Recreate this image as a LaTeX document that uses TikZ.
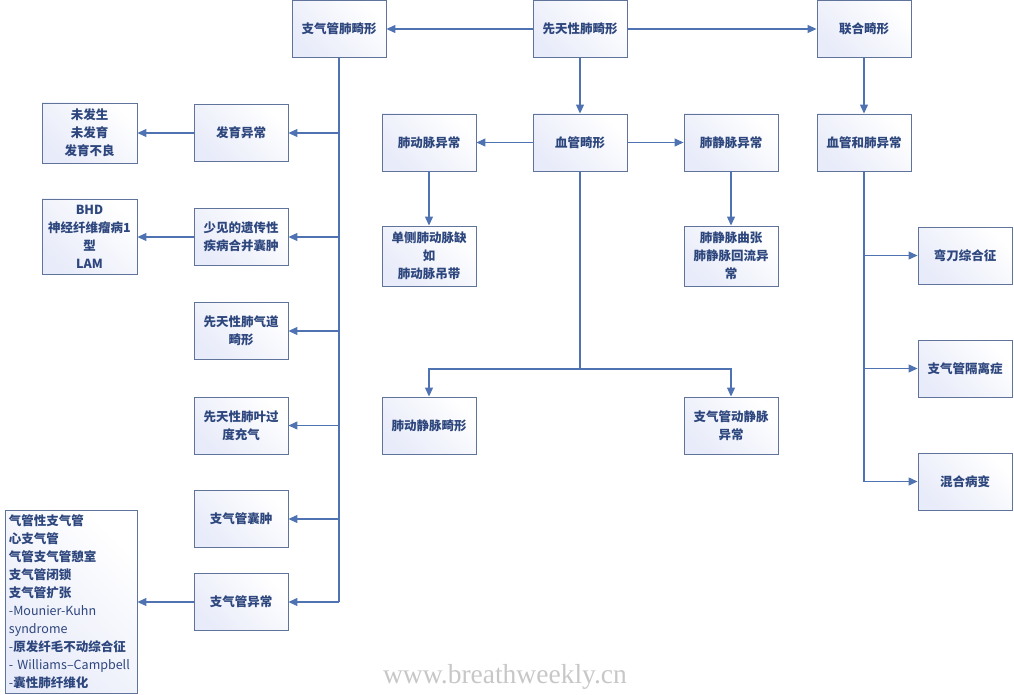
\documentclass[tikz,border=0pt]{standalone}
\usepackage{fontspec}
\setmainfont{Noto Sans CJK SC}
\newfontfamily\wmfont{Liberation Serif}
\usetikzlibrary{arrows.meta}
\definecolor{lineblue}{RGB}{79,115,178}
\definecolor{boxborder}{RGB}{95,115,155}
\definecolor{txtblue}{RGB}{45,70,125}
\definecolor{boxfill}{RGB}{232,235,249}
\begin{document}
\begin{tikzpicture}[x=1pt,y=-1pt,
  box/.style={draw=boxborder, line width=0.9pt, left color=boxfill, right color=white, shading angle=135,
    minimum width=94pt, minimum height=57pt, align=center, inner sep=2pt,
    font=\fontsize{12.5pt}{18pt}\selectfont\bfseries, text=txtblue},
  conn/.style={draw=lineblue, line width=1.2pt},
  arr/.style={conn, -{Triangle[length=9pt,width=8pt]}}
]
\useasboundingbox (0,0) rectangle (1014,695);
% top row
\node[box] (zhi) at (339,29) {支气管肺畸形};
\node[box] (xian) at (580,29) {先天性肺畸形};
\node[box] (lian) at (864,29) {联合畸形};
% left column
\node[box] (fayu) at (241,133) {发育异常};
\node[box, minimum width=95pt, minimum height=60pt] (weifa) at (89.5,133) {未发生\\未发育\\发育不良};
\node[box] (shao) at (241,237) {少见的遗传性\\疾病合并囊肿};
\node[box, minimum width=95pt, minimum height=75pt] (bhd) at (89.5,236.5) {BHD\\神经纤维瘤病1\\型\\LAM};
\node[box] (qidao) at (241,331) {先天性肺气道\\畸形};
\node[box] (feiye) at (241,425.5) {先天性肺叶过\\度充气};
\node[box] (nangzh) at (241,519) {支气管囊肿};
\node[box] (yichang) at (241,602) {支气管异常};
\node[box, minimum width=132pt, minimum height=183pt, align=left, text width=124pt, inner sep=4pt] (list) at (71,601.5)
  {气管性支气管\\心支气管\\气管支气管憩室\\支气管闭锁\\支气管扩张\\{\mdseries -Mounier-Kuhn}\\{\mdseries syndrome}\\{\mdseries -}原发纤毛不动综合征\\{\mdseries - Williams–Campbell}\\{\mdseries -}囊性肺纤维化};
% vascular
\node[box] (xue) at (580,142.5) {血管畸形};
\node[box] (dongm) at (429,142.5) {肺动脉异常};
\node[box] (jingm) at (731,142.5) {肺静脉异常};
\node[box, minimum height=60pt] (danc) at (429,256) {单侧肺动脉缺\\如\\肺动脉吊带};
\node[box, minimum height=60pt] (quzh) at (731,256) {肺静脉曲张\\肺静脉回流异\\常};
\node[box] (dongjing) at (429,425.5) {肺动静脉畸形};
\node[box] (zhidong) at (731,425.5) {支气管动静脉\\异常};
% combined
\node[box] (xuefei) at (864,142.5) {血管和肺异常};
\node[box] (wandao) at (965,255.5) {弯刀综合征};
\node[box] (geli) at (965,368.5) {支气管隔离症};
\node[box] (hunhe) at (965,481.5) {混合病变};
% watermark
\node[font=\wmfont\fontsize{27.5pt}{30pt}\selectfont, text=black!22] (wm) at (505,677) {www.breathweekly.cn};
% connectors
\draw[arr] (xian.west) -- (zhi.east);
\draw[arr] (xian.east) -- (lian.west);
\draw[arr] (xian.south) -- (xue.north);
\draw[arr] (lian.south) -- (xuefei.north);
\coordinate (trunk) at (zhi.south |- yichang.east);
\draw[conn] (zhi.south) -- (trunk);
\foreach \n in {fayu,shao,qidao,feiye,nangzh,yichang}
  \draw[arr] (zhi.south |- \n.east) -- (\n.east);
\draw[arr] (fayu.west) -- (weifa.east);
\draw[arr] (shao.west) -- (bhd.east |- shao.west);
\draw[arr] (yichang.west) -- (list.east |- yichang.west);
\draw[arr] (xue.west) -- (dongm.east);
\draw[arr] (xue.east) -- (jingm.west);
\draw[arr] (dongm.south) -- (danc.north);
\draw[arr] (jingm.south) -- (quzh.north);
\coordinate (vj) at (580,369);
\draw[conn] (xue.south) -- (vj);
\draw[arr] (vj) -| (dongjing.north);
\draw[arr] (vj) -| (zhidong.north);
\draw[arr] (xuefei.south) |- (hunhe.west);
\draw[arr] (xuefei.south |- wandao.west) -- (wandao.west);
\draw[arr] (xuefei.south |- geli.west) -- (geli.west);
\end{tikzpicture}
\end{document}
